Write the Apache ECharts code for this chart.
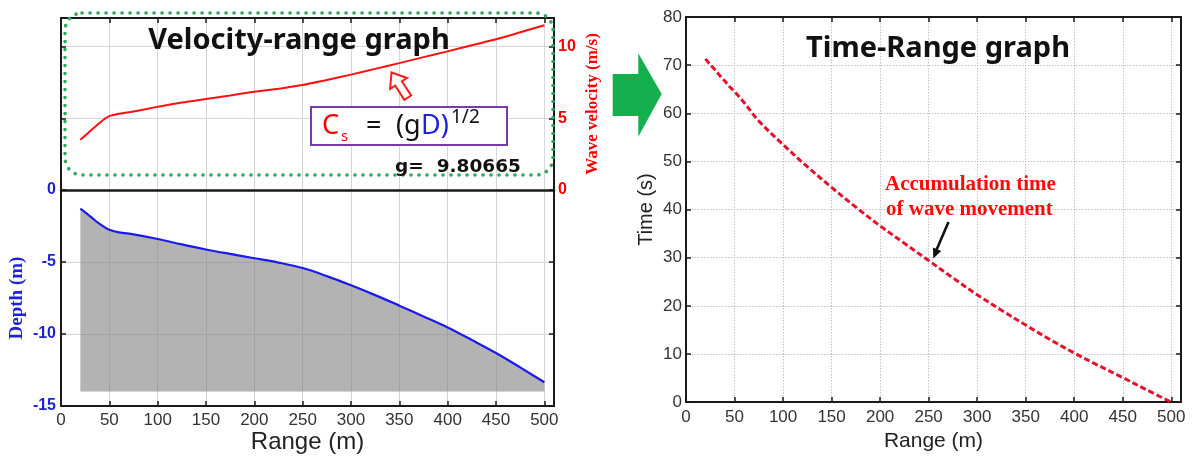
<!DOCTYPE html>
<html>
<head>
<meta charset="utf-8">
<script src="https://cdn.jsdelivr.net/npm/echarts@6/dist/echarts.min.js"></script>
<style>
  html, body { margin: 0; padding: 0; background: #fff; }
  #chart { width: 1192px; height: 457px; }
</style>
</head>
<body>
<div id="chart"></div>
<script>
// Range positions (m) along the profile
const rangeX = [20, 25, 30, 35, 40, 45, 50, 60, 75, 100, 125, 150, 175, 200, 225, 250, 275, 300, 325, 350, 375, 400, 425, 450, 475, 500];
// Wave velocity (m/s)
const velocity = [3.5, 3.8, 4.1, 4.4, 4.68, 4.95, 5.15, 5.32, 5.48, 5.8, 6.1, 6.35, 6.6, 6.85, 7.07, 7.32, 7.68, 8.05, 8.45, 8.85, 9.27, 9.67, 10.1, 10.52, 11.0, 11.5];
// Water depth (m)
const depth = [-1.30, -1.55, -1.82, -2.10, -2.35, -2.58, -2.76, -2.94, -3.08, -3.40, -3.78, -4.13, -4.44, -4.74, -5.04, -5.42, -5.98, -6.62, -7.30, -8.03, -8.78, -9.55, -10.42, -11.32, -12.32, -13.35];
// Accumulated travel time (s)
const timeS = [71.3, 70.1, 69.0, 67.8, 66.7, 65.5, 64.5, 62.2, 58.4, 53.5, 48.9, 44.6, 40.5, 36.6, 33.0, 29.4, 25.8, 22.3, 19.1, 16.0, 13.0, 10.2, 7.6, 5.1, 2.5, 0];
// Seabed base level used for the shaded profile
const seabedBase = -14;

const pairs = (ys) => rangeX.map((x, i) => [x, ys[i]]);

const BOX = '#1a1a1a';
const GRID_SOLID = { show: true, lineStyle: { color: '#d6d6d6', width: 1 } };
const GRID_DOT = { show: true, lineStyle: { color: '#c4c4c4', width: 1, type: [1.5, 1.5] } };
const TICK_IN = { show: true, inside: true, length: 5, lineStyle: { color: BOX, width: 1.5 } };
const BOX_LINE = { show: true, onZero: false, lineStyle: { color: BOX, width: 2 } };
const tickFont = { fontFamily: 'Liberation Sans', fontSize: 17, color: '#333' };

function rangeAxis(gridIndex, extra) {
  return Object.assign({
    type: 'value', gridIndex, min: 0, max: 510, interval: 50,
    axisLine: BOX_LINE, axisTick: TICK_IN, splitLine: { show: false },
    axisLabel: { show: false }
  }, extra);
}
function valAxis(gridIndex, min, max, interval, extra) {
  return Object.assign({
    type: 'value', gridIndex, min, max, interval,
    axisLine: BOX_LINE, axisTick: TICK_IN, splitLine: { show: false },
    axisLabel: { show: false }
  }, extra);
}

// Hollow block arrow given its tip and direction
function hollowArrow(tip, dir, len, shaftHalf, headHalf, headLen) {
  const m = Math.hypot(dir[0], dir[1]);
  const u = [dir[0] / m, dir[1] / m];
  const n = [-u[1], u[0]];
  const tail = [tip[0] - u[0] * len, tip[1] - u[1] * len];
  const p = (a, b) => [tail[0] + u[0] * a + n[0] * b, tail[1] + u[1] * a + n[1] * b];
  const hb = len - headLen;
  return [p(0, -shaftHalf), p(hb, -shaftHalf), p(hb, -headHalf), p(len, 0), p(hb, headHalf), p(hb, shaftHalf), p(0, shaftHalf)];
}
function arrowHead(tip, dir, len, half) {
  const m = Math.hypot(dir[0], dir[1]);
  const u = [dir[0] / m, dir[1] / m];
  const n = [-u[1], u[0]];
  const b = [tip[0] - u[0] * len, tip[1] - u[1] * len];
  return [tip, [b[0] + n[0] * half, b[1] + n[1] * half], [b[0] - n[0] * half, b[1] - n[1] * half]];
}

const chart = echarts.init(document.getElementById('chart'), null, { renderer: 'canvas' });

const option = {
  animation: false,
  backgroundColor: '#fff',
  grid: [
    { left: 61, top: 18, width: 493, height: 172 },
    { left: 61, top: 190, width: 493, height: 216 },
    { left: 686, top: 17, width: 495, height: 391 }
  ],
  xAxis: [
    rangeAxis(0, { position: 'bottom', axisTick: { show: false }, axisLine: { show: true, onZero: false, lineStyle: { color: BOX, width: 2.5 } }, splitLine: GRID_SOLID }),
    rangeAxis(0, { position: 'top' }),
    rangeAxis(1, {
      position: 'bottom', splitLine: GRID_SOLID,
      axisLabel: Object.assign({ show: true, margin: 6, showMaxLabel: false }, tickFont),
      name: 'Range (m)', nameLocation: 'middle', nameGap: 24,
      nameTextStyle: { fontFamily: 'Liberation Sans', fontSize: 24, color: '#222' }
    }),
    rangeAxis(2, {
      position: 'bottom', splitLine: GRID_DOT,
      axisLabel: Object.assign({ show: true, margin: 7, showMaxLabel: false }, tickFont),
      name: 'Range (m)', nameLocation: 'middle', nameGap: 26,
      nameTextStyle: { fontFamily: 'Liberation Sans', fontSize: 21, color: '#222' }
    }),
    rangeAxis(2, { position: 'top' })
  ],
  yAxis: [
    valAxis(0, 0, 12, 5, { position: 'left', splitLine: GRID_SOLID }),
    valAxis(0, 0, 12, 5, {
      position: 'right',
      axisLabel: { show: true, margin: 4, showMaxLabel: false, fontFamily: 'Liberation Sans', fontWeight: 'bold', fontSize: 16, color: '#ff0000' },
      name: 'Wave velocity (m/s)', nameLocation: 'middle', nameGap: 30, nameRotate: 90,
      nameTextStyle: { fontFamily: 'Liberation Serif', fontWeight: 'bold', fontSize: 17, color: '#ff0000' }
    }),
    valAxis(1, -15, 0, 5, {
      position: 'left', splitLine: GRID_SOLID,
      axisLabel: { show: true, margin: 5, fontFamily: 'Liberation Sans', fontWeight: 'bold', fontSize: 16, color: '#1f1fd0' },
      name: 'Depth (m)', nameLocation: 'middle', nameGap: 34, nameRotate: 90,
      nameTextStyle: { fontFamily: 'Liberation Serif', fontWeight: 'bold', fontSize: 19, color: '#1f1fe0' }
    }),
    valAxis(1, -15, 0, 5, { position: 'right' }),
    valAxis(2, 0, 80, 10, {
      position: 'left', splitLine: GRID_DOT,
      axisLabel: Object.assign({ show: true, margin: 4 }, tickFont),
      name: 'Time (s)', nameLocation: 'middle', nameGap: 30, nameRotate: 90,
      nameTextStyle: { fontFamily: 'Liberation Sans', fontSize: 20, color: '#222' }
    }),
    valAxis(2, 0, 80, 10, { position: 'right' })
  ],
  series: [
    {
      name: 'Wave velocity', type: 'line', xAxisIndex: 0, yAxisIndex: 1,
      data: pairs(velocity), showSymbol: false, smooth: 0.35,
      lineStyle: { color: '#ff1010', width: 2 }, z: 3
    },
    {
      name: 'Depth', type: 'line', xAxisIndex: 2, yAxisIndex: 2,
      data: pairs(depth), showSymbol: false, smooth: 0.35,
      lineStyle: { color: '#1a1aee', width: 2.2 },
      areaStyle: { origin: seabedBase, color: 'rgb(128,128,128)', opacity: 0.6 }, z: 3
    },
    {
      name: 'Travel time', type: 'line', xAxisIndex: 3, yAxisIndex: 4,
      data: pairs(timeS), showSymbol: false, smooth: 0.35,
      lineStyle: { color: '#e3122a', width: 3, type: [6, 3] }, z: 3
    }
  ],
  graphic: [
    // dotted frame around the velocity panel
    {
      type: 'rect', z: 50, silent: true,
      shape: { x: 65, y: 13, width: 488, height: 162, r: 17 },
      style: { fill: 'none', stroke: '#2ea85e', lineWidth: 3.6, lineDash: [0.1, 7.9], lineCap: 'round' }
    },
    {
      type: 'text', z: 60, silent: true, x: 299, y: 41,
      style: { text: 'Velocity-range graph', fontFamily: 'Noto Sans', fontWeight: 'bold', fontSize: 29, fill: '#111', align: 'center', verticalAlign: 'middle' }
    },
    // formula box
    {
      type: 'rect', z: 55, silent: true,
      shape: { x: 311, y: 107, width: 196, height: 38 },
      style: { fill: '#fff', stroke: '#7a3aa8', lineWidth: 2 }
    },
    { type: 'text', z: 60, silent: true, x: 322, y: 126, style: { text: 'C', fontFamily: 'Noto Sans', fontSize: 27, fill: '#ff0000', verticalAlign: 'middle' } },
    { type: 'text', z: 60, silent: true, x: 341, y: 137, style: { text: 's', fontFamily: 'Noto Sans', fontSize: 15, fill: '#ff0000', verticalAlign: 'middle' } },
    { type: 'text', z: 60, silent: true, x: 366, y: 126, style: { text: '=', fontFamily: 'Noto Sans', fontSize: 27, fill: '#111', verticalAlign: 'middle' } },
    { type: 'text', z: 60, silent: true, x: 396, y: 126, style: { text: '(g', fontFamily: 'Noto Sans', fontSize: 27, fill: '#111', verticalAlign: 'middle' } },
    { type: 'text', z: 60, silent: true, x: 421, y: 126, style: { text: 'D)', fontFamily: 'Noto Sans', fontSize: 27, fill: '#1f1fe0', verticalAlign: 'middle' } },
    { type: 'text', z: 60, silent: true, x: 451, y: 118, style: { text: '1/2', fontFamily: 'Noto Sans', fontSize: 19, fill: '#111', verticalAlign: 'middle' } },
    { type: 'text', z: 60, silent: true, x: 395, y: 167, style: { text: 'g=  9.80665', fontFamily: 'DejaVu Sans', fontWeight: 'bold', fontSize: 18.5, fill: '#111', verticalAlign: 'middle' } },
    // red hollow arrow
    {
      type: 'polygon', z: 60, silent: true,
      shape: { points: hollowArrow([391.5, 72.5], [-16.3, -25.3], 30, 4, 10, 13) },
      style: { fill: '#fff', stroke: '#ff1a1a', lineWidth: 2 }
    },
    // green transition arrow
    {
      type: 'polygon', z: 60, silent: true,
      shape: { points: [[612.7, 74], [638.3, 74], [638.3, 53.3], [661.7, 94], [638.3, 136.7], [638.3, 116], [612.7, 116]] },
      style: { fill: '#14b04e' }
    },
    {
      type: 'text', z: 60, silent: true, x: 938, y: 49,
      style: { text: 'Time-Range graph', fontFamily: 'Noto Sans', fontWeight: 'bold', fontSize: 29, fill: '#111', align: 'center', verticalAlign: 'middle' }
    },
    {
      type: 'text', z: 60, silent: true, x: 885, y: 185,
      style: { text: 'Accumulation time', fontFamily: 'Liberation Serif', fontWeight: 'bold', fontSize: 21, fill: '#ff0a0a', verticalAlign: 'middle' }
    },
    {
      type: 'text', z: 60, silent: true, x: 886, y: 210,
      style: { text: 'of wave movement', fontFamily: 'Liberation Serif', fontWeight: 'bold', fontSize: 21, fill: '#ff0a0a', verticalAlign: 'middle' }
    },
    // black pointer to the time curve
    {
      type: 'line', z: 60, silent: true,
      shape: { x1: 948.5, y1: 222, x2: 936.0, y2: 251 },
      style: { stroke: '#111', lineWidth: 2.6 }
    },
    {
      type: 'polygon', z: 60, silent: true,
      shape: { points: arrowHead([933.3, 258.5], [-15, 36.5], 10, 4.5) },
      style: { fill: '#111' }
    }
  ]
};

chart.setOption(option);
</script>
</body>
</html>
